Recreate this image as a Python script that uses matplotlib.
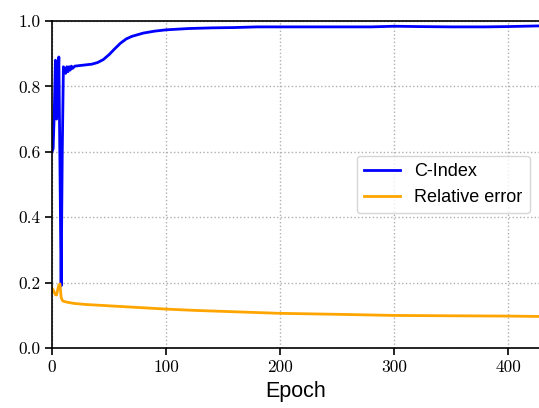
import matplotlib
matplotlib.use('Agg')
import matplotlib.pyplot as plt

# C-Index curve (epoch, value)
cidx_epoch = [0, 1, 2, 3, 4, 5, 6, 7, 8, 9, 10, 11, 12, 13, 14, 15, 16, 17, 18, 20,
              25, 30, 35, 40, 45, 50, 55, 60, 65, 70, 80, 90, 100, 120, 140, 160,
              180, 200, 250, 280, 300, 320, 350, 380, 400, 427]
cidx_value = [0.60, 0.61, 0.72, 0.88, 0.70, 0.78, 0.89, 0.55, 0.19, 0.60, 0.86, 0.85,
              0.84, 0.86, 0.845, 0.86, 0.85, 0.862, 0.855, 0.862,
              0.864, 0.866, 0.868, 0.873, 0.882, 0.897, 0.915, 0.932, 0.945, 0.953,
              0.963, 0.969, 0.973, 0.977, 0.979, 0.980, 0.982, 0.982, 0.982, 0.982,
              0.984, 0.983, 0.982, 0.982, 0.983, 0.985]

# Relative error curve
err_epoch = [0, 1, 2, 3, 4, 5, 6, 7, 8, 9, 10, 12, 15, 20, 30, 40, 50, 60, 70, 80,
             90, 100, 125, 150, 175, 200, 250, 300, 350, 400, 427]
err_value = [0.183, 0.178, 0.170, 0.163, 0.162, 0.178, 0.192, 0.196, 0.155, 0.146,
             0.143, 0.141, 0.139, 0.136, 0.133, 0.131, 0.129, 0.127, 0.125, 0.123,
             0.121, 0.119, 0.115, 0.112, 0.109, 0.106, 0.103, 0.0996, 0.0985,
             0.0976, 0.0965]

x_ticks = [0, 100, 200, 300, 400]
y_ticks = [0.0, 0.2, 0.4, 0.6, 0.8, 1.0]

fig = plt.figure(figsize=(5.39, 4.08), dpi=100)
ax = fig.add_axes([52/539, 60/408, 487/539, 327/408])

ax.plot(cidx_epoch, cidx_value, color='#0000ff', lw=2, label='C-Index')
ax.plot(err_epoch, err_value, color='#ffa500', lw=2, label='Relative error')

ax.set_xlim(0, 427)
ax.set_ylim(0, 1.0)
ax.set_xticks(x_ticks)
ax.set_yticks(y_ticks)
ax.set_xticklabels([str(t) for t in x_ticks])
ax.set_yticklabels(['%.1f' % t for t in y_ticks])
for lab in ax.get_xticklabels() + ax.get_yticklabels():
    lab.set_fontfamily('cmr10')
    lab.set_fontsize(12.5)

ax.grid(True, linestyle=':', color='#b0b0b0', lw=1)
ax.tick_params(direction='out', length=5, width=1.2)
ax.spines['right'].set_visible(False)
for s in ['left', 'top', 'bottom']:
    ax.spines[s].set_linewidth(1.2)

ax.set_xlabel('Epoch', fontsize=15.5, family='Liberation Sans', labelpad=4)
ax.legend(loc='center right', prop={'family': 'Liberation Sans', 'size': 13})

fig.savefig('out.png', dpi=100)
